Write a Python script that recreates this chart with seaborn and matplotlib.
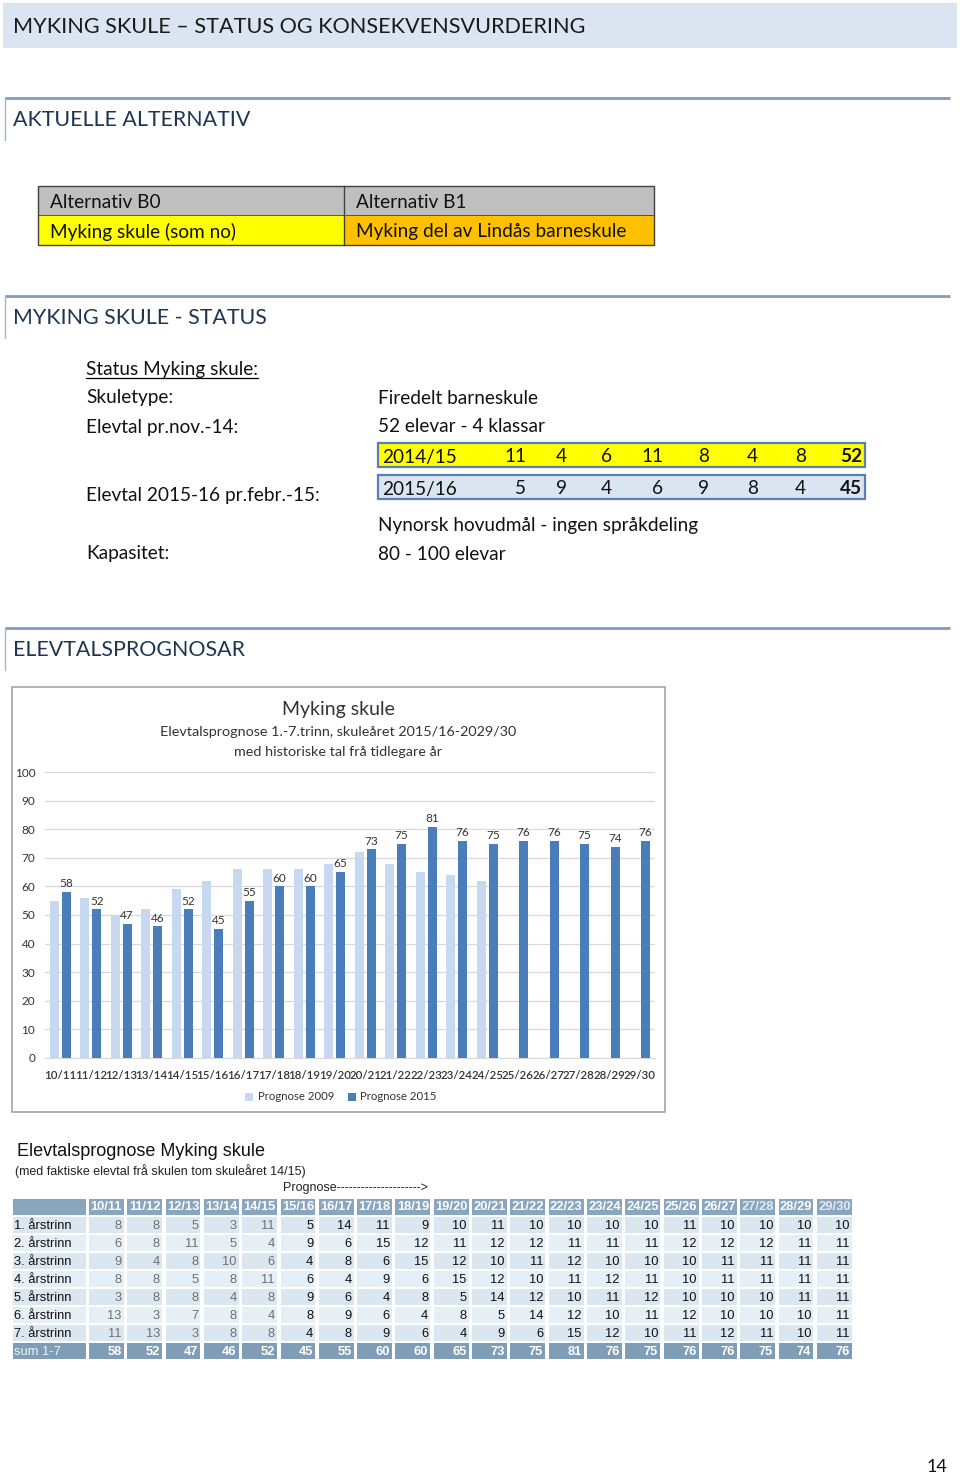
import numpy as np
import pandas as pd
import matplotlib
matplotlib.use("Agg")
import matplotlib.pyplot as plt
import seaborn as sns
from matplotlib.patches import Rectangle

# ---------------- data ----------------
years = ["10/11", "11/12", "12/13", "13/14", "14/15", "15/16", "16/17", "17/18", "18/19", "19/20",
         "20/21", "21/22", "22/23", "23/24", "24/25", "25/26", "26/27", "27/28", "28/29", "29/30"]
prognose_2015 = [58, 52, 47, 46, 52, 45, 55, 60, 60, 65, 73, 75, 81, 76, 75, 76, 76, 75, 74, 76]
prognose_2009 = [55, 56, 50, 52, 59, 62, 66, 66, 66, 68, 72, 68, 65, 64, 62]  # 10/11 .. 24/25

trinn_labels = ["1. årstrinn", "2. årstrinn", "3. årstrinn", "4. årstrinn",
                "5. årstrinn", "6. årstrinn", "7. årstrinn"]
trinn_1 = [8, 8, 5, 3, 11, 5, 14, 11, 9, 10, 11, 10, 10, 10, 10, 11, 10, 10, 10, 10]
trinn_2 = [6, 8, 11, 5, 4, 9, 6, 15, 12, 11, 12, 12, 11, 11, 11, 12, 12, 12, 11, 11]
trinn_3 = [9, 4, 8, 10, 6, 4, 8, 6, 15, 12, 10, 11, 12, 10, 10, 10, 11, 11, 11, 11]
trinn_4 = [8, 8, 5, 8, 11, 6, 4, 9, 6, 15, 12, 10, 11, 12, 11, 10, 11, 11, 11, 11]
trinn_5 = [3, 8, 8, 4, 8, 9, 6, 4, 8, 5, 14, 12, 10, 11, 12, 10, 10, 10, 11, 11]
trinn_6 = [13, 3, 7, 8, 4, 8, 9, 6, 4, 8, 5, 14, 12, 10, 11, 12, 10, 10, 10, 11]
trinn_7 = [11, 13, 3, 8, 8, 4, 8, 9, 6, 4, 9, 6, 15, 12, 10, 11, 12, 11, 10, 11]
sum_label = "sum 1-7"
n_historic = 5

status_labels = ["2014/15", "2015/16"]
status_2014 = [11, 4, 6, 11, 8, 4, 8]
status_2015 = [5, 9, 4, 6, 9, 8, 4]
status_tot = [52, 45]

# ---------------- figure ----------------
W, H = 960, 1475
fig = plt.figure(figsize=(W / 100, H / 100), dpi=100)
bg = fig.add_axes([0, 0, 1, 1])
bg.set_xlim(0, W)
bg.set_ylim(H, 0)
bg.axis("off")

CAL = ["Lato", "DejaVu Sans"]
ARI = ["Liberation Sans", "DejaVu Sans"]
DY = 2  # baseline tweak for Lato text
BODY = 13.7

def ax_rect(x0, y0, x1, y1):
    return [x0 / W, 1 - y1 / H, (x1 - x0) / W, (y1 - y0) / H]

def txt(x, y, s, size=BODY, **kw):
    kw.setdefault("family", CAL)
    kw.setdefault("va", "center")
    kw.setdefault("color", "#111111")
    return bg.text(x, y + DY, s, fontsize=size, **kw)

# title bar
bg.add_patch(Rectangle((3, 3), 954, 45, facecolor="#dbe5f1", edgecolor="none"))
txt(13, 25, "MYKING SKULE – STATUS OG KONSEKVENSVURDERING", size=15.6, color="#1a1a1a")

# section headings
def section(y, label):
    bg.plot([5, 950], [y, y], color="#7f9cc4", lw=2, solid_capstyle="butt")
    bg.plot([5, 5], [y, y + 42], color="#9fb3cf", lw=1)
    txt(13, y + 20, label, size=15.4, color="#1f3550")

section(98, "AKTUELLE ALTERNATIV")
section(296, "MYKING SKULE - STATUS")
section(628, "ELEVTALSPROGNOSAR")

# alternatives table
bg.add_patch(Rectangle((38, 186), 306, 29, facecolor="#bfbfbf", edgecolor="none"))
bg.add_patch(Rectangle((344, 186), 310, 29, facecolor="#bfbfbf", edgecolor="none"))
bg.add_patch(Rectangle((38, 215), 306, 30, facecolor="#ffff00", edgecolor="none"))
bg.add_patch(Rectangle((344, 215), 310, 30, facecolor="#ffc000", edgecolor="none"))
bg.add_patch(Rectangle((38, 186), 616, 59, facecolor="none", edgecolor="#404040", lw=1))
bg.plot([344, 344], [186, 245], color="#404040", lw=1)
bg.plot([38, 654], [215, 215], color="#404040", lw=0.6)
txt(50, 200, "Alternativ B0")
txt(356, 200, "Alternativ B1")
txt(50, 230, "Myking skule (som no)")
txt(356, 230, "Myking del av Lindås barneskule")

# status texts
txt(86, 368, "Status Myking skule:")
bg.plot([86, 258], [378, 378], color="black", lw=0.9)
left_items = [(396, "Skuletype:"), (425, "Elevtal pr.nov.-14:"),
              (494, "Elevtal 2015-16 pr.febr.-15:"), (552, "Kapasitet:")]
for y, s in left_items:
    txt(86, y, s)
right_items = [(396, "Firedelt barneskule"), (425, "52 elevar - 4 klassar"),
               (523, "Nynorsk hovudmål - ingen språkdeling"), (552, "80 - 100 elevar")]
for y, s in right_items:
    txt(378, y, s)

num_x = [526, 567, 612, 663, 709, 758, 806]
for (y0, fc, lab, vals, tot) in [(443, "#ffff00", status_labels[0], status_2014, status_tot[0]),
                                 (475, "#dbe5f1", status_labels[1], status_2015, status_tot[1])]:
    bg.add_patch(Rectangle((378, y0), 487, 24, facecolor=fc, edgecolor="#5b7fae", lw=1.6))
    yc = y0 + 12
    txt(382, yc, lab)
    for x, v in zip(num_x, vals):
        txt(x, yc, str(v), ha="right")
    txt(862, yc, str(tot), ha="right", fontweight="bold")

# ---------------- chart ----------------
bg.add_patch(Rectangle((12, 687), 653, 425, facecolor="white", edgecolor="#a6a6a6", lw=1.2))
txt(338, 707, "Myking skule", size=14, color="#333333", ha="center")
txt(338, 730, "Elevtalsprognose 1.-7.trinn, skuleåret 2015/16-2029/30", size=10.4,
    color="#333333", ha="center")
txt(338, 750, "med historiske tal frå tidlegare år", size=10.4, color="#333333", ha="center")

rows = []
for y, v in zip(years, prognose_2009):
    rows.append({"year": y, "serie": "Prognose 2009", "elevar": v})
for y, v in zip(years, prognose_2015):
    rows.append({"year": y, "serie": "Prognose 2015", "elevar": v})
df = pd.DataFrame(rows)

ax = fig.add_axes(ax_rect(45, 772.3, 655, 1057.7))
sns.barplot(data=df, x="year", y="elevar", hue="serie", order=years,
            hue_order=["Prognose 2009", "Prognose 2015"],
            palette=["#c6d9f1", "#4a7ebb"], width=0.78, gap=0.22,
            saturation=1, ax=ax, errorbar=None, zorder=3)
ax.set_ylim(0, 100)
ax.set_xlim(-0.5, len(years) - 0.5)
ax.set_yticks(range(0, 101, 10))
ax.yaxis.grid(True, color="#d9d9d9", lw=0.9, zorder=0)
ax.set_axisbelow(True)
for s in ["top", "right", "left"]:
    ax.spines[s].set_visible(False)
ax.spines["bottom"].set_color("#d9d9d9")
ax.tick_params(axis="both", length=0, colors="#333333")
ax.tick_params(axis="y", pad=7)
ax.tick_params(axis="x", pad=9)
for lbl in ax.get_yticklabels():
    lbl.set_fontsize(8.5)
    lbl.set_family(CAL)
for lbl in ax.get_xticklabels():
    lbl.set_fontsize(8.3)
    lbl.set_family(CAL)
    lbl.set_fontweight("semibold")
ax.set_xlabel("")
ax.set_ylabel("")
ax.bar_label(ax.containers[1], fontsize=8.5, color="#333333", padding=2, family=CAL)
leg = ax.legend(loc="center", bbox_to_anchor=(341 / W, 1 - 1097 / H),
                bbox_transform=fig.transFigure, ncol=2, frameon=False,
                handlelength=0.7, handleheight=0.7, handletextpad=0.4,
                columnspacing=1.2, prop={"family": CAL, "size": 8.2})
for t in leg.get_texts():
    t.set_color("#333333")

# ---------------- table ----------------
bg.text(17, 1151, "Elevtalsprognose Myking skule", fontsize=13, family=ARI,
        color="#111111", va="center")
bg.text(15, 1171, "(med faktiske elevtal frå skulen tom skuleåret 14/15)", fontsize=9,
        family=ARI, color="#222222", va="center")
bg.text(283, 1188, "Prognose--------------------->", fontsize=9, family=ARI,
        color="#222222", va="center")

trinn = [trinn_1, trinn_2, trinn_3, trinn_4, trinn_5, trinn_6, trinn_7]
ncol = len(years)
nrow = len(trinn) + 2
tab = fig.add_axes(ax_rect(11, 1197.5, 853.5, 1360.4))
tab.set_xlim(-1.99, ncol)
tab.set_ylim(nrow, 0)
tab.axis("off")

head_c = "#8aa6bf"
sum_c = "#7f9db6"
light = ["#dbe7f0", "#e6eff5"]
gw, gh = 0.045, 0.06

def cell(x0, r, w, color):
    tab.add_patch(Rectangle((x0 + gw, r + gh), w - 2 * gw, 1 - 2 * gh,
                            facecolor=color, edgecolor="none"))

# header row
cell(-1.99, 0, 1.99, head_c)
for i, y in enumerate(years):
    cell(i, 0, 1, head_c)
    col = "white" if y not in ("27/28", "29/30") else "#e3eaf0"
    tab.text(i + 0.5, 0.55, y, fontsize=9.3, family=ARI, color=col,
             ha="center", va="center", fontweight="bold")
# trinn rows
for r, (lab, vals) in enumerate(zip(trinn_labels, trinn), start=1):
    c = light[(r + 1) % 2]
    cell(-1.99, r, 1.99, c)
    tab.text(-1.9, r + 0.55, lab, fontsize=9.3, family=ARI, color="#111111",
             ha="left", va="center")
    for i, v in enumerate(vals):
        cell(i, r, 1, c)
        tcol = "#707070" if i < n_historic else "#111111"
        tab.text(i + 0.9, r + 0.55, str(v), fontsize=9.3, family=ARI, color=tcol,
                 ha="right", va="center")
# sum row
r = nrow - 1
cell(-1.99, r, 1.99, sum_c)
tab.text(-1.9, r + 0.55, sum_label, fontsize=9.3, family=ARI, color="#eef3f7",
         ha="left", va="center")
for i, v in enumerate(prognose_2015):
    cell(i, r, 1, sum_c)
    tab.text(i + 0.9, r + 0.55, str(v), fontsize=9.3, family=ARI, color="white",
             ha="right", va="center", fontweight="bold")

# page number
txt(947, 1465, "14", size=13, ha="right")

fig.savefig("out.png", dpi=100)
